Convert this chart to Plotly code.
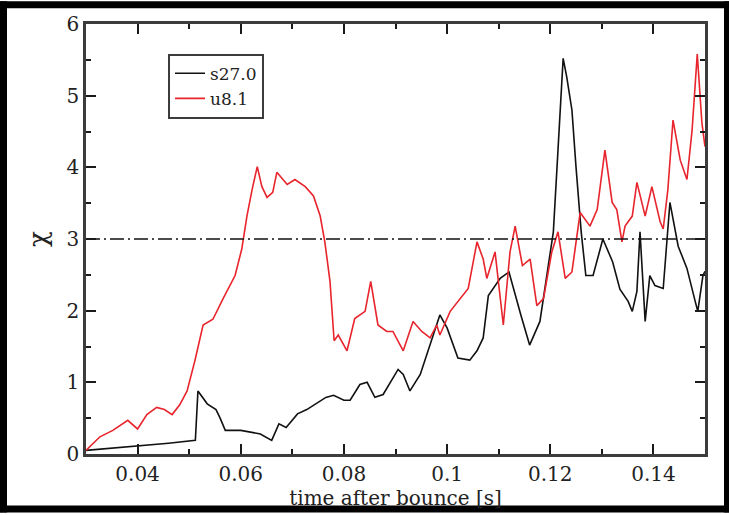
import plotly.graph_objects as go

# time after bounce [s] and chi for the two progenitor models
t_s27 = [0.0300, 0.0350, 0.0405, 0.0460, 0.0512, 0.0517, 0.0535, 0.0552, 0.0560, 0.0570,
         0.0600, 0.0620, 0.0638, 0.0660, 0.0674, 0.0688, 0.0710, 0.0728, 0.0765, 0.0780,
         0.0800, 0.0812, 0.0831, 0.0845, 0.0860, 0.0876, 0.0905, 0.0915, 0.0928, 0.0948,
         0.0963, 0.0986, 0.1000, 0.1009, 0.1021, 0.1044, 0.1058, 0.1070, 0.1080, 0.1103,
         0.1120, 0.1143, 0.1160, 0.1180, 0.1193, 0.1206, 0.1215, 0.1225, 0.1232, 0.1242,
         0.1250, 0.1260, 0.1269, 0.1283, 0.1302, 0.1321, 0.1335, 0.1351, 0.1359, 0.1368,
         0.1374, 0.1384, 0.1393, 0.1403, 0.1419, 0.1432, 0.1448, 0.1465, 0.1481, 0.1486,
         0.1496, 0.1500]
chi_s27 = [0.05, 0.08, 0.12, 0.15, 0.19, 0.88, 0.70, 0.62, 0.50, 0.33,
           0.33, 0.30, 0.28, 0.19, 0.42, 0.37, 0.56, 0.62, 0.79, 0.82,
           0.75, 0.75, 0.97, 1.00, 0.79, 0.83, 1.18, 1.11, 0.88, 1.11,
           1.44, 1.94, 1.76, 1.58, 1.34, 1.31, 1.44, 1.62, 2.21, 2.45,
           2.54, 1.94, 1.52, 1.85, 2.49, 3.10, 4.24, 5.52, 5.26, 4.80,
           4.00, 3.10, 2.49, 2.49, 3.00, 2.68, 2.30, 2.13, 1.99, 2.27,
           3.10, 1.85, 2.49, 2.35, 2.31, 3.51, 2.90, 2.59, 2.13, 1.99,
           2.49, 2.55]

t_u81 = [0.0300, 0.0327, 0.0352, 0.0381, 0.0400, 0.0418, 0.0437, 0.0452, 0.0467, 0.0482,
         0.0496, 0.0511, 0.0527, 0.0546, 0.0566, 0.0589, 0.0602, 0.0612, 0.0622, 0.0632,
         0.0641, 0.0651, 0.0662, 0.0670, 0.0690, 0.0705, 0.0725, 0.0741, 0.0754, 0.0763,
         0.0773, 0.0781, 0.0789, 0.0806, 0.0821, 0.0841, 0.0852, 0.0866, 0.0883, 0.0895,
         0.0915, 0.0934, 0.0951, 0.0967, 0.0980, 0.0986, 0.1006, 0.1025, 0.1041, 0.1058,
         0.1070, 0.1077, 0.1093, 0.1109, 0.1122, 0.1132, 0.1146, 0.1161, 0.1174, 0.1187,
         0.1203, 0.1215, 0.1229, 0.1242, 0.1258, 0.1277, 0.1291, 0.1306, 0.1320, 0.1329,
         0.1339, 0.1345, 0.1359, 0.1368, 0.1384, 0.1397, 0.1413, 0.1419, 0.1428, 0.1438,
         0.1452, 0.1465, 0.1475, 0.1485, 0.1494, 0.1500]
chi_u81 = [0.05, 0.24, 0.33, 0.47, 0.35, 0.55, 0.65, 0.62, 0.55, 0.69,
           0.88, 1.30, 1.80, 1.88, 2.17, 2.49, 2.86, 3.32, 3.69, 4.01,
           3.73, 3.58, 3.65, 3.93, 3.76, 3.83, 3.73, 3.60, 3.32, 2.96,
           2.41, 1.58, 1.66, 1.44, 1.89, 1.99, 2.41, 1.80, 1.71, 1.71,
           1.44, 1.85, 1.71, 1.62, 1.80, 1.66, 1.99, 2.17, 2.31, 2.96,
           2.72, 2.45, 2.82, 1.80, 2.82, 3.18, 2.63, 2.72, 2.07, 2.17,
           2.82, 3.10, 2.45, 2.54, 3.37, 3.18, 3.41, 4.24, 3.51, 3.41,
           2.96, 3.18, 3.32, 3.79, 3.32, 3.73, 3.24, 3.14, 3.69, 4.66,
           4.10, 3.83, 4.52, 5.58, 4.62, 4.29]

x_ticks = [0.04, 0.06, 0.08, 0.1, 0.12, 0.14]
x_tick_text = ["0.04", "0.06", "0.08", "0.1", "0.12", "0.14"]
x_minor = [0.05, 0.07, 0.09, 0.11, 0.13]
threshold = 3.0

W, H = 729, 516
ML, MR, MT, MB = 86, 24, 23, 59
pw, ph = W - ML - MR, H - MT - MB

FONT = "DejaVu Serif"
AXC = "#3c3c3c"
TICKC = "#1a1a1a"
TXT = "#222222"

fig = go.Figure()
fig.add_trace(go.Scatter(x=t_s27, y=chi_s27, mode="lines", name="s27.0",
                         line=dict(color="#111111", width=1.6)))
fig.add_trace(go.Scatter(x=t_u81, y=chi_u81, mode="lines", name="u8.1",
                         line=dict(color="#e8242c", width=1.6)))

# critical value line
fig.add_trace(go.Scatter(x=[0.03, 0.15], y=[threshold, threshold], mode="lines",
                         showlegend=False, hoverinfo="skip",
                         line=dict(color="#111111", width=1.4, dash="14px,4px,2px,4px")))

def px_x(p):
    return (p - ML) / pw

def px_y(p):
    return (H - MB - p) / ph

# black surround around the white page
frame = dict(type="rect", xref="paper", yref="paper", layer="below",
             fillcolor="black", line=dict(width=0))
fig.add_shape(x0=px_x(0), x1=px_x(7), y0=px_y(H), y1=px_y(0), **frame)
fig.add_shape(x0=px_x(724), x1=px_x(W), y0=px_y(H), y1=px_y(0), **frame)
fig.add_shape(x0=px_x(0), x1=px_x(W), y0=px_y(7), y1=px_y(0), **frame)
fig.add_shape(x0=px_x(0), x1=px_x(W), y0=px_y(H), y1=px_y(509), **frame)

fig.update_xaxes(range=[0.03, 0.15], tickmode="array", tickvals=x_ticks, ticktext=x_tick_text,
                 showline=True, linecolor=AXC, linewidth=2.5, mirror="allticks",
                 ticks="inside", ticklen=10, tickwidth=2, tickcolor=TICKC,
                 showgrid=False, zeroline=False,
                 tickfont=dict(family=FONT, size=20, color=TXT),
                 minor=dict(ticks="inside", ticklen=5, tickwidth=2, tickcolor=TICKC,
                            tickmode="array", tickvals=x_minor, showgrid=False),
                 title=dict(text="time after bounce [s]", font=dict(family=FONT, size=20, color=TXT),
                            standoff=4))
fig.update_yaxes(range=[0, 6], tickmode="linear", dtick=1, tick0=0,
                 showline=True, linecolor=AXC, linewidth=2.5, mirror="allticks",
                 ticks="inside", ticklen=10, tickwidth=2, tickcolor=TICKC,
                 showgrid=False, zeroline=False,
                 tickfont=dict(family=FONT, size=20, color=TXT),
                 minor=dict(ticks="inside", ticklen=5, tickwidth=2, tickcolor=TICKC,
                            dtick=0.5, showgrid=False),
                 title=dict(text="χ", font=dict(family=FONT, size=26, color=TXT), standoff=12))

fig.update_layout(
    width=W, height=H,
    margin=dict(l=ML, r=MR, t=MT, b=MB),
    paper_bgcolor="white", plot_bgcolor="white",
    showlegend=True,
    legend=dict(x=px_x(168), y=px_y(53), xanchor="left", yanchor="top",
                bgcolor="white", bordercolor=AXC, borderwidth=2,
                font=dict(family=FONT, size=17, color=TXT),
                itemwidth=30, tracegroupgap=0),
)

fig.write_html("out.html")
